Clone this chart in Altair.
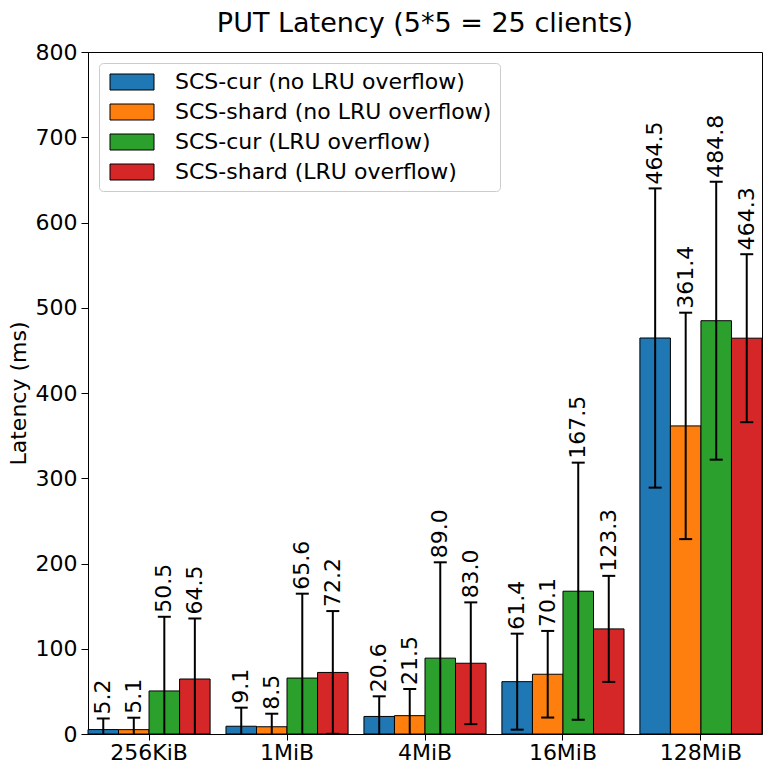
import altair as alt
import pandas as pd

# Object sizes (x categories) and the four configurations
sizes = ["256KiB", "1MiB", "4MiB", "16MiB", "128MiB"]
series = [
    "SCS-cur (no LRU overflow)",
    "SCS-shard (no LRU overflow)",
    "SCS-cur (LRU overflow)",
    "SCS-shard (LRU overflow)",
]
colors = ["#1f77b4", "#ff7f0e", "#2ca02c", "#d62728"]

# Mean latency (ms), one list per series, in the order of < sizes >
cur_no_overflow = [5.2, 9.1, 20.6, 61.4, 464.5]
shard_no_overflow = [5.1, 8.5, 21.5, 70.1, 361.4]
cur_overflow = [50.5, 65.6, 89.0, 167.5, 484.8]
shard_overflow = [64.5, 72.2, 83.0, 123.3, 464.3]

# Standard deviation (ms)
cur_no_overflow_std = [13.0, 21.8, 23.6, 56.3, 175.5]
shard_no_overflow_std = [14.0, 15.3, 31.3, 50.8, 132.8]
cur_overflow_std = [87.0, 99.0, 112.4, 150.8, 163.0]
shard_overflow_std = [71.0, 72.0, 71.4, 62.2, 98.5]

means = [cur_no_overflow, shard_no_overflow, cur_overflow, shard_overflow]
stds = [cur_no_overflow_std, shard_no_overflow_std, cur_overflow_std, shard_overflow_std]

rows = []
for name, mean_list, std_list in zip(series, means, stds):
    for size, mean, std in zip(sizes, mean_list, std_list):
        rows.append({
            "size": size,
            "series": name,
            "latency": mean,
            "hi": mean + std,
            "lo": max(mean - std, 0.0),
            "lo_raw": mean - std,
        })
frame = pd.DataFrame(rows)

FONT = "DejaVu Sans"
FONT_SIZE = 22

x_enc = alt.X(
    "size:N",
    sort=sizes,
    title=None,
    scale=alt.Scale(paddingInner=0.115, paddingOuter=0),
    axis=alt.Axis(labelAngle=0, labelFontSize=FONT_SIZE, labelPadding=2, tickSize=6),
)
offset_enc = alt.XOffset("series:N", sort=series, scale=alt.Scale(paddingInner=0, paddingOuter=0))
y_scale = alt.Scale(domain=[0, 800], nice=False)

base = alt.Chart(frame)

bars = base.mark_bar(stroke="black", strokeWidth=1, opacity=1).encode(
    x=x_enc,
    xOffset=offset_enc,
    y=alt.Y(
        "latency:Q",
        scale=y_scale,
        axis=alt.Axis(
            values=list(range(0, 801, 100)),
            grid=False,
            labelFontSize=FONT_SIZE,
            labelPadding=4,
            tickSize=7,
            title="Latency (ms)",
            titleFontSize=FONT_SIZE,
            titleFontWeight="normal",
            titlePadding=5,
        ),
    ),
    color=alt.Color(
        "series:N",
        sort=series,
        scale=alt.Scale(domain=series, range=colors),
        title=None,
        legend=alt.Legend(
            orient="top-left",
            offset=11,
            fillColor="white",
            strokeColor="#cccccc",
            cornerRadius=4,
            padding=8,
            labelFontSize=FONT_SIZE,
            labelFont=FONT,
            labelColor="black",
            labelLimit=0,
            labelOffset=46,
            rowPadding=8,
            symbolType="M-1,-1H4.5V1H-1Z",
            symbolSize=256,
            symbolStrokeColor="black",
            symbolStrokeWidth=1,
            symbolOpacity=1,
        ),
    ),
)

whiskers = base.mark_rule(color="black", strokeWidth=2).encode(
    x=x_enc,
    xOffset=offset_enc,
    y=alt.Y("lo:Q", scale=y_scale),
    y2="hi:Q",
)

top_caps = base.mark_tick(color="black", thickness=2, size=13, opacity=1).encode(
    x=x_enc,
    xOffset=offset_enc,
    y=alt.Y("hi:Q", scale=y_scale),
)

bottom_caps = (
    base.transform_filter("datum.lo_raw > 0")
    .mark_tick(color="black", thickness=2, size=13, opacity=1)
    .encode(
        x=x_enc,
        xOffset=offset_enc,
        y=alt.Y("lo:Q", scale=y_scale),
    )
)

labels = base.mark_text(
    angle=270, align="left", baseline="middle", dx=4, fontSize=FONT_SIZE, font=FONT, color="black"
).encode(
    x=x_enc,
    xOffset=offset_enc,
    y=alt.Y("hi:Q", scale=y_scale),
    text=alt.Text("latency:Q", format=".1f"),
)

chart = (
    alt.layer(bars, whiskers, top_caps, bottom_caps, labels)
    .properties(
        width=674,
        height=682,
        title=alt.TitleParams(
            "PUT Latency (5*5 = 25 clients)",
            fontSize=27,
            fontWeight="normal",
            font=FONT,
            anchor="middle",
            offset=3,
            color="black",
        ),
        autosize=alt.AutoSizeParams(type="none"),
        padding={"left": 80, "top": 44, "right": 2, "bottom": 30},
    )
    .configure(font=FONT)
    .configure_view(stroke="black", strokeWidth=1)
    .configure_axis(
        domainColor="black",
        tickColor="black",
        labelColor="black",
        titleColor="black",
        labelFont=FONT,
        titleFont=FONT,
    )
)

chart.save("out.html", embed_options={"renderer": "svg", "actions": False})
